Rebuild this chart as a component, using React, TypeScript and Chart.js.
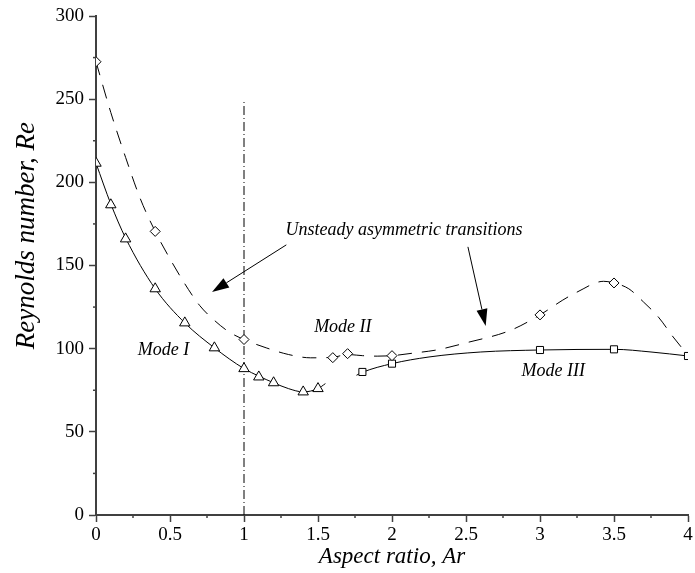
import React, { useEffect, useRef } from 'react';
import { Chart, registerables } from 'chart.js';

Chart.register(...registerables);

// ---- Data ----
// Mode I (triangles)
const modeIMarkerAr = [0, 0.1, 0.2, 0.4, 0.6, 0.8, 1.0, 1.1, 1.2, 1.4, 1.5];
const modeIMarkerRe = [211.5, 186.5, 166, 136, 115.5, 100.5, 88, 83, 79.5, 74, 76];
// Mode I fitted curve (solid)
const modeICurveAr = [0, 0.1, 0.2, 0.4, 0.6, 0.8, 1.0, 1.1, 1.2, 1.3, 1.4, 1.5, 1.55];
const modeICurveRe = [211.5, 187, 166.5, 136, 115.5, 100.5, 88, 83.5, 79.5, 76, 74, 76, 79];

// Unsteady transitions (diamonds)
const unsteadyMarkerAr = [0, 0.4, 1.0, 1.6, 1.7, 2.0, 3.0, 3.5];
const unsteadyMarkerRe = [272.5, 170.5, 105.5, 94.6, 97, 95.8, 120.3, 139.5];
// Unsteady fitted curve (dashed)
const unsteadyCurveAr = [0, 0.1, 0.2, 0.3, 0.4, 0.5, 0.6, 0.7, 0.8, 0.9, 1.0, 1.15, 1.3, 1.45, 1.6, 1.7, 1.8, 1.9, 2.0, 2.15, 2.3, 2.5, 2.8, 3.0, 3.15, 3.25, 3.43, 3.5, 3.6, 3.7, 3.8, 3.9, 4.0];
const unsteadyCurveRe = [272.5, 242, 215, 190, 170.5, 154, 139, 126, 117, 110, 105.5, 100.5, 96.5, 94.5, 94.8, 96.5, 95.8, 95.5, 95.8, 97.4, 99.2, 103.5, 111, 120.3, 129, 134, 140.5, 139.5, 136, 128, 119, 107, 96];

// Mode III (squares)
const modeIIIMarkerAr = [1.8, 2.0, 3.0, 3.5, 4.0];
const modeIIIMarkerRe = [86, 91, 99.2, 99.6, 95.6];
// Mode III fitted curve (solid)
const modeIIICurveAr = [1.76, 1.8, 2.0, 2.25, 2.6, 3.0, 3.5, 3.75, 4.0];
const modeIIICurveRe = [84, 85.8, 91, 95, 98, 99.2, 99.6, 98, 95.6];

// Vertical reference line at Ar = 1
const refLineAr = [1, 1];
const refLineRe = [0, 250];

// Axis ticks
const xMajorStep = 0.5;
const yMajorStep = 50;
const xMinorTicks = [0.25, 0.75, 1.25, 1.75, 2.25, 2.75, 3.25, 3.75];
const yMinorTicks = [25, 75, 125, 175, 225, 275];

// Annotations (anchored in data coordinates)
const labelTexts = ['Unsteady asymmetric transitions', 'Mode I', 'Mode II', 'Mode III'];
const labelAr = [1.28, 0.456, 1.668, 3.09];
const labelRe = [171.4, 99.2, 113, 86.6];
const labelAlign = ['left', 'center', 'center', 'center'];
const arrowFromAr = [1.286, 2.513];
const arrowFromRe = [162.4, 161.2];
const arrowToAr = [0.784, 2.633];
const arrowToRe = [134.1, 113.6];

const FONT = "'Liberation Serif', 'Times New Roman', serif";
const AXIS_COLOR = '#404040';

const pts = (xs: number[], ys: number[]) => xs.map((x, i) => ({ x, y: ys[i] }));

const overlayPlugin = {
  id: 'overlay',
  afterDraw(chart: any) {
    const { ctx } = chart;
    const xs = chart.scales.x;
    const ys = chart.scales.y;
    ctx.save();
    // minor ticks
    ctx.strokeStyle = AXIS_COLOR;
    ctx.lineWidth = 1.5;
    for (const v of xMinorTicks) {
      const px = xs.getPixelForValue(v);
      ctx.beginPath();
      ctx.moveTo(px, ys.bottom);
      ctx.lineTo(px, ys.bottom + 3);
      ctx.stroke();
    }
    for (const v of yMinorTicks) {
      const py = ys.getPixelForValue(v);
      ctx.beginPath();
      ctx.moveTo(xs.left, py);
      ctx.lineTo(xs.left - 3, py);
      ctx.stroke();
    }
    // y-axis title
    ctx.fillStyle = '#000';
    ctx.font = `italic 27px ${FONT}`;
    ctx.textAlign = 'center';
    ctx.textBaseline = 'middle';
    ctx.save();
    ctx.translate(27, ys.getPixelForValue(168));
    ctx.rotate(-Math.PI / 2);
    ctx.fillText('Reynolds number, Re', 0, 0);
    ctx.restore();
    // labels
    ctx.font = `italic 18px ${FONT}`;
    labelTexts.forEach((t, i) => {
      ctx.textAlign = labelAlign[i];
      ctx.fillText(t, xs.getPixelForValue(labelAr[i]), ys.getPixelForValue(labelRe[i]));
    });
    // arrows
    ctx.strokeStyle = '#000';
    ctx.fillStyle = '#000';
    ctx.lineWidth = 1;
    for (let i = 0; i < arrowFromAr.length; i++) {
      const x0 = xs.getPixelForValue(arrowFromAr[i]);
      const y0 = ys.getPixelForValue(arrowFromRe[i]);
      const x1 = xs.getPixelForValue(arrowToAr[i]);
      const y1 = ys.getPixelForValue(arrowToRe[i]);
      const ang = Math.atan2(y1 - y0, x1 - x0);
      const len = 17;
      const half = 5.5;
      const bx = x1 - len * Math.cos(ang);
      const by = y1 - len * Math.sin(ang);
      ctx.beginPath();
      ctx.moveTo(x0, y0);
      ctx.lineTo(bx, by);
      ctx.stroke();
      ctx.beginPath();
      ctx.moveTo(x1, y1);
      ctx.lineTo(bx + half * Math.sin(ang), by - half * Math.cos(ang));
      ctx.lineTo(bx - half * Math.sin(ang), by + half * Math.cos(ang));
      ctx.closePath();
      ctx.fill();
    }
    ctx.restore();
  },
};

export default function App() {
  const canvasRef = useRef<HTMLCanvasElement | null>(null);

  useEffect(() => {
    if (!canvasRef.current) return;
    const markerCommon = {
      showLine: false,
      borderColor: '#000',
      backgroundColor: '#fff',
      pointBorderColor: '#000',
      pointBackgroundColor: '#fff',
      pointBorderWidth: 1,
    };
    const curveCommon = {
      showLine: true,
      borderColor: '#000',
      borderWidth: 1,
      pointRadius: 0,
      fill: false,
      cubicInterpolationMode: 'monotone' as const,
    };
    const chart = new Chart(canvasRef.current, {
      type: 'scatter',
      data: {
        datasets: [
          { label: 'Mode I', data: pts(modeIMarkerAr, modeIMarkerRe), pointStyle: 'triangle', pointRadius: 6, ...markerCommon },
          { label: 'Unsteady', data: pts(unsteadyMarkerAr, unsteadyMarkerRe), pointStyle: 'rectRot', pointRadius: 5, ...markerCommon },
          { label: 'Mode III', data: pts(modeIIIMarkerAr, modeIIIMarkerRe), pointStyle: 'rect', pointRadius: 5, ...markerCommon },
          { label: 'Mode I fit', data: pts(modeICurveAr, modeICurveRe), ...curveCommon },
          { label: 'Unsteady fit', data: pts(unsteadyCurveAr, unsteadyCurveRe), ...curveCommon, borderDash: [14, 10] },
          { label: 'Mode III fit', data: pts(modeIIICurveAr, modeIIICurveRe), ...curveCommon },
          { label: 'Ar = 1', data: pts(refLineAr, refLineRe), showLine: true, borderColor: '#000', borderWidth: 1, pointRadius: 0, borderDash: [9, 3, 1, 3], tension: 0 },
        ],
      },
      options: {
        responsive: false,
        animation: false,
        devicePixelRatio: 1,
        layout: { padding: { left: 0, right: 2, top: 16, bottom: 0 } },
        plugins: { legend: { display: false }, tooltip: { enabled: false } },
        scales: {
          x: {
            type: 'linear',
            min: 0,
            max: 4,
            ticks: {
              stepSize: xMajorStep,
              color: '#000',
              font: { family: FONT, size: 19 },
              padding: 2,
              maxRotation: 0,
              callback: (v: any) => String(Number(v)),
            },
            grid: { display: true, drawOnChartArea: false, drawTicks: true, tickLength: 7, tickColor: AXIS_COLOR, tickWidth: 1.5 },
            border: { display: true, color: AXIS_COLOR, width: 2 },
            title: { display: true, text: 'Aspect ratio, Ar', color: '#000', font: { family: FONT, size: 23, style: 'italic' }, padding: { top: 0, bottom: 2 } },
            afterFit: (s: any) => { s.height = 58; s.paddingLeft = 0; s.paddingRight = 0; },
          },
          y: {
            type: 'linear',
            min: 0,
            max: 300,
            ticks: { stepSize: yMajorStep, color: '#000', font: { family: FONT, size: 19 }, padding: 5 },
            grid: { display: true, drawOnChartArea: false, drawTicks: true, tickLength: 7, tickColor: AXIS_COLOR, tickWidth: 1.5 },
            border: { display: true, color: AXIS_COLOR, width: 2 },
            afterFit: (s: any) => { s.width = 96; s.paddingTop = 0; s.paddingBottom = 0; },
          },
        },
      },
      plugins: [overlayPlugin],
    });
    return () => chart.destroy();
  }, []);

  return (
    <canvas
      ref={canvasRef}
      width={695}
      height={573}
      style={{ position: 'absolute', left: 0, top: 0, width: 695, height: 573, display: 'block', background: '#fff' }}
    />
  );
}
